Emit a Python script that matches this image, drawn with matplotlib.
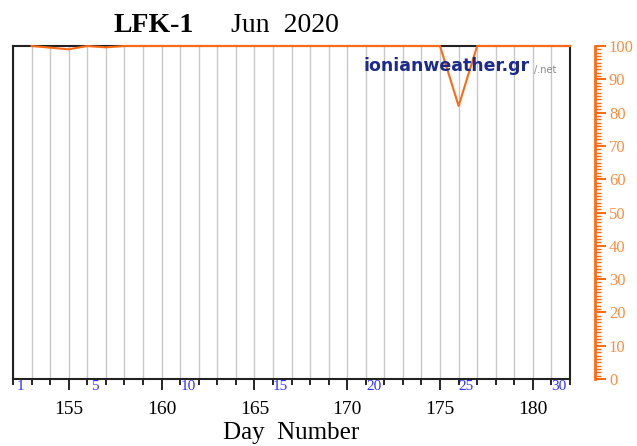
import matplotlib.pyplot as plt
from matplotlib.ticker import MultipleLocator

# daily values, day numbers 153..182
days = list(range(153, 183))
values = [100, 99.5, 99, 100, 99.6, 100, 100, 100, 100, 100,
          100, 100, 100, 100, 100, 100, 100, 100, 100, 100,
          100, 100, 100, 82, 100, 100, 100, 100, 100, 100]
month_days = [1, 5, 10, 15, 20, 25, 30]
first_day = 152

serif = 'Liberation Serif'
orange = '#ff6a13'

fig = plt.figure(figsize=(6.37, 4.46), dpi=100)
ax = fig.add_axes([13/637, 1 - 379/446, (570 - 13)/637, (379 - 46)/446])

ax.set_xlim(152, 182)
ax.set_ylim(0, 100)
ax.xaxis.set_major_locator(MultipleLocator(5))
ax.xaxis.set_minor_locator(MultipleLocator(1))
ax.tick_params(axis='x', which='major', direction='out', length=8, width=1.2, pad=8,
               labelsize=14)
ax.tick_params(axis='x', which='minor', direction='out', length=4, width=1.2)
for lab in ax.get_xticklabels():
    lab.set_fontfamily(serif)
ax.set_yticks([])
ax.grid(True, which='both', axis='x', color='#c8c8c8', lw=1)
for s in ax.spines.values():
    s.set_color('#222222')
    s.set_linewidth(1.5)

ax.plot(days, values, color=orange, lw=1.5, clip_on=False, zorder=5)

# day-of-month labels
for d in month_days:
    ax.text(first_day + d - 1 + 0.42, -0.024, str(d), transform=ax.get_xaxis_transform(),
            ha='center', va='center', color='#3030ff', fontsize=11, fontfamily=serif)

# right orange axis
ax2 = ax.twinx()
ax2.set_ylim(0, 100)
for s in ['top', 'bottom', 'left']:
    ax2.spines[s].set_visible(False)
ax2.spines['right'].set_position(('outward', 18))
ax2.spines['right'].set_color(orange)
ax2.spines['right'].set_linewidth(2)
ax2.yaxis.set_major_locator(MultipleLocator(10))
ax2.yaxis.set_minor_locator(MultipleLocator(1))
ax2.tick_params(axis='y', which='major', color=orange, length=8, width=1.5,
                labelcolor='#ff8c40', labelsize=12, pad=2)
ax2.tick_params(axis='y', which='minor', color=orange, length=4, width=1)
for lab in ax2.get_yticklabels():
    lab.set_fontfamily(serif)

# title and axis label
fig.text(154/637, 1 - 26/446, 'LFK-1', ha='center', va='center', fontfamily=serif,
         fontsize=20, fontweight='bold')
fig.text(285/637, 1 - 26/446, 'Jun  2020', ha='center', va='center', fontfamily=serif,
         fontsize=20)
fig.text(291/637, 1 - 433/446, 'Day  Number', ha='center', va='center', fontfamily=serif,
         fontsize=18)

# watermark
fig.text(447/637, 1 - 66/446, 'ionianweather.gr', ha='center', va='center',
         fontfamily='DejaVu Sans', fontsize=12.5, fontweight='bold', color='#1c2a8c')
fig.text(545/637, 1 - 70/446, '/.net', ha='center', va='center',
         fontfamily='DejaVu Sans', fontsize=7, color='#888888')

fig.savefig('out.png', dpi=100)
